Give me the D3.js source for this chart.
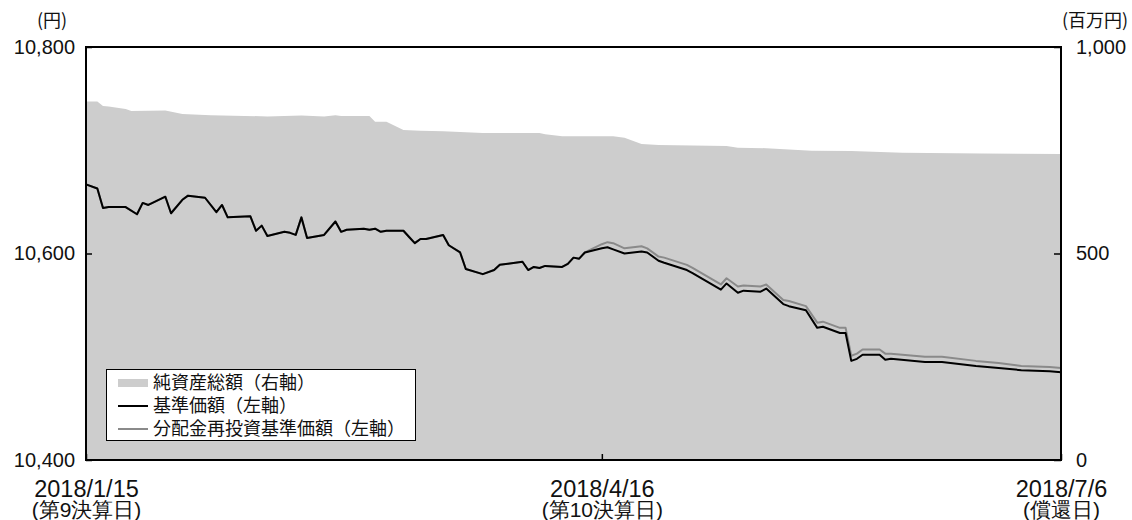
<!DOCTYPE html>
<html lang="ja"><head>
<meta charset="UTF-8"><title>基準価額・純資産総額の推移</title>
<style>
  body { margin:0; background:#fff; }
  svg { display:block; font-family: "Noto Sans CJK JP", sans-serif; }
  .axis text { font-size:20px; fill:#111; }
  .axis path { display:none; }
  .axis line { stroke:#000; stroke-width:1.5; }
  .xaxis .d1 { font-size:23.5px; }
  .xaxis .d2 { font-size:21px; }
  .legend text { font-size:18px; fill:#111; }
</style>
</head><body>
<svg id="chart" width="1132" height="520"></svg>
<script src="https://cdn.jsdelivr.net/npm/d3@7/dist/d3.min.js"></script>
<script>
// ── 基準価額 / 分配金再投資基準価額（左軸, 円）
const dates = [
  '2018/01/15','2018/01/17','2018/01/18','2018/01/19','2018/01/22','2018/01/24','2018/01/25','2018/01/26','2018/01/29','2018/01/30',
  '2018/02/01','2018/02/02','2018/02/05','2018/02/07','2018/02/08','2018/02/09','2018/02/13','2018/02/14','2018/02/15','2018/02/16',
  '2018/02/19','2018/02/20','2018/02/21','2018/02/22','2018/02/23','2018/02/26','2018/02/28','2018/03/01','2018/03/02','2018/03/05',
  '2018/03/06','2018/03/07','2018/03/08','2018/03/09','2018/03/12','2018/03/13','2018/03/14','2018/03/15','2018/03/16','2018/03/19',
  '2018/03/20','2018/03/22','2018/03/23','2018/03/26','2018/03/28','2018/03/29','2018/04/02','2018/04/03','2018/04/04','2018/04/05',
  '2018/04/06','2018/04/09','2018/04/10','2018/04/11','2018/04/12','2018/04/13','2018/04/16','2018/04/17','2018/04/18','2018/04/20',
  '2018/04/23','2018/04/24','2018/04/26','2018/04/27','2018/05/01','2018/05/02','2018/05/07','2018/05/08','2018/05/10','2018/05/11',
  '2018/05/14','2018/05/15','2018/05/18','2018/05/19','2018/05/22','2018/05/24','2018/05/25','2018/05/28','2018/05/29','2018/05/30',
  '2018/05/31','2018/06/01','2018/06/04','2018/06/05','2018/06/06','2018/06/12','2018/06/15','2018/06/21','2018/06/25','2018/06/29',
  '2018/07/04','2018/07/06'
];
const nav = [
  10667,10663,10644,10645,10645,10638,10649,10647,10655,10639,
  10652,10656,10654,10640,10647,10635,10636,10622,10627,10617,
  10621,10620,10618,10635,10615,10618,10631,10621,10623,10624,
  10623,10624,10621,10622,10622,10616,10610,10614,10614,10618,
  10608,10601,10585,10580,10584,10589,10592,10584,10587,10586,
  10588,10587,10590,10596,10595,10601,10605,10606,10604,10600,
  10602,10601,10593,10591,10584,10581,10565,10571,10562,10564,
  10563,10566,10551,10549,10545,10528,10529,10523,10523,10496,
  10498,10502,10502,10497,10498,10495,10495,10491,10489,10487,
  10486,10485
];
const navReinvested = [
  10667,10663,10644,10645,10645,10638,10649,10647,10655,10639,
  10652,10656,10654,10640,10647,10635,10636,10622,10627,10617,
  10621,10620,10618,10635,10615,10618,10631,10621,10623,10624,
  10623,10624,10621,10622,10622,10616,10610,10614,10614,10618,
  10608,10601,10585,10580,10584,10589,10592,10584,10587,10586,
  10588,10587,10590,10596,10595,10601,10609,10611,10610,10605,
  10607,10605,10597,10596,10589,10586,10570,10576,10568,10569,
  10568,10570,10555,10554,10549,10533,10534,10528,10528,10501,
  10503,10507,10507,10503,10503,10500,10500,10496,10494,10491,
  10490,10489
];

// ── 純資産総額（右軸, 百万円）
const assetDates = [
  '2018/01/15','2018/01/17','2018/01/18','2018/01/19','2018/01/22','2018/01/23','2018/01/29','2018/02/01','2018/02/06','2018/02/16',
  '2018/02/22','2018/02/26','2018/02/28','2018/03/01','2018/03/06','2018/03/07','2018/03/09','2018/03/12','2018/03/15','2018/03/19',
  '2018/03/26','2018/04/05','2018/04/06','2018/04/09','2018/04/18','2018/04/20','2018/04/23','2018/04/26','2018/05/08','2018/05/10',
  '2018/05/15','2018/05/23','2018/05/30','2018/06/08','2018/06/22','2018/07/06'
];
const assetValues = [
  868,868,857,856,850,845,846,838,835,832,
  834,832,835,833,833,819,819,799,797,796,
  792,792,789,784,784,780,765,763,760,756,
  755,749,748,744,742,741
];

const xTicks = ['2018/01/15','2018/04/16','2018/07/06'];
const xTickLabels = [['2018/1/15','(第9決算日)'], ['2018/4/16','(第10決算日)'], ['2018/7/6','(償還日)']];
const leftTicks = [10400, 10600, 10800];
const rightTicks = [0, 500, 1000];
const legendItems = ['純資産総額（右軸）', '基準価額（左軸）', '分配金再投資基準価額（左軸）'];

const parse = d3.timeParse('%Y/%m/%d');
const m = { left: 86, right: 1061, top: 47, bottom: 460 };

const svg = d3.select('#chart');
const x = d3.scaleTime().domain([parse('2018/01/15'), parse('2018/07/06')]).range([m.left, m.right]);
const yL = d3.scaleLinear().domain([10400, 10800]).range([m.bottom, m.top]);
const yR = d3.scaleLinear().domain([0, 1000]).range([m.bottom, m.top]);

const navData = dates.map((d, i) => ({ date: parse(d), nav: nav[i], re: navReinvested[i] }));
const assetData = assetDates.map((d, i) => ({ date: parse(d), v: assetValues[i] }));

// 純資産総額 area
svg.append('path')
  .datum(assetData)
  .attr('fill', '#cdcdcd')
  .attr('d', d3.area().x(d => x(d.date)).y0(yR(0)).y1(d => yR(d.v)));

// lines: 分配金再投資 (gray) under 基準価額 (black)
svg.append('path')
  .datum(navData)
  .attr('fill', 'none').attr('stroke', '#8a8a8a').attr('stroke-width', 2).attr('stroke-linejoin', 'round')
  .attr('d', d3.line().x(d => x(d.date)).y(d => yL(d.re)));
svg.append('path')
  .datum(navData)
  .attr('fill', 'none').attr('stroke', '#000').attr('stroke-width', 2).attr('stroke-linejoin', 'round')
  .attr('d', d3.line().x(d => x(d.date)).y(d => yL(d.nav)));

// axes
svg.append('g').attr('class', 'axis').attr('transform', `translate(${m.left},0)`)
  .call(d3.axisLeft(yL).tickValues(leftTicks).tickFormat(d3.format(',')).tickSizeInner(-6).tickSizeOuter(0).tickPadding(11));
svg.append('g').attr('class', 'axis').attr('transform', `translate(${m.right},0)`)
  .call(d3.axisRight(yR).tickValues(rightTicks).tickFormat(d3.format(',')).tickSizeInner(-7).tickSizeOuter(0).tickPadding(15));

const xAxis = svg.append('g').attr('class', 'axis xaxis').attr('transform', `translate(0,${m.bottom})`)
  .call(d3.axisBottom(x).tickValues(xTicks.map(parse)).tickSizeInner(-6).tickSizeOuter(0).tickPadding(0));
xAxis.selectAll('.tick text').each(function (d, i) {
  const t = d3.select(this).text(null).attr('y', 0).attr('dy', null);
  t.append('tspan').attr('class', 'd1').attr('x', 0).attr('y', 37).text(xTickLabels[i][0]);
  t.append('tspan').attr('class', 'd2').attr('x', 0).attr('y', 56.5).text(xTickLabels[i][1]);
});

// frame
svg.append('rect')
  .attr('x', m.left).attr('y', m.top)
  .attr('width', m.right - m.left).attr('height', m.bottom - m.top)
  .attr('fill', 'none').attr('stroke', '#000').attr('stroke-width', 2);

// unit labels
svg.append('text').attr('x', 52).attr('y', 27).attr('text-anchor', 'middle')
  .style('font-size', '18px').attr('fill', '#111').text('(円)');
svg.append('text').attr('x', 1095).attr('y', 27).attr('text-anchor', 'middle')
  .style('font-size', '18px').attr('fill', '#111').text('(百万円)');

// legend
const lg = svg.append('g').attr('class', 'legend');
lg.append('rect').attr('x', 106.5).attr('y', 369.5).attr('width', 309).attr('height', 71)
  .attr('fill', '#fff').attr('stroke', '#000').attr('stroke-width', 1);
const rowY = [383, 406, 429];
lg.append('rect').attr('x', 118).attr('y', rowY[0] - 4).attr('width', 30).attr('height', 8).attr('fill', '#cdcdcd');
lg.append('line').attr('x1', 118).attr('x2', 148).attr('y1', rowY[1]).attr('y2', rowY[1]).attr('stroke', '#000').attr('stroke-width', 2);
lg.append('line').attr('x1', 118).attr('x2', 148).attr('y1', rowY[2]).attr('y2', rowY[2]).attr('stroke', '#8a8a8a').attr('stroke-width', 2);
lg.selectAll('text.item').data(legendItems).join('text').attr('class', 'item')
  .attr('x', 153).attr('y', (d, i) => rowY[i]).attr('dy', '0.35em').text(d => d);
</script>
</body></html>
